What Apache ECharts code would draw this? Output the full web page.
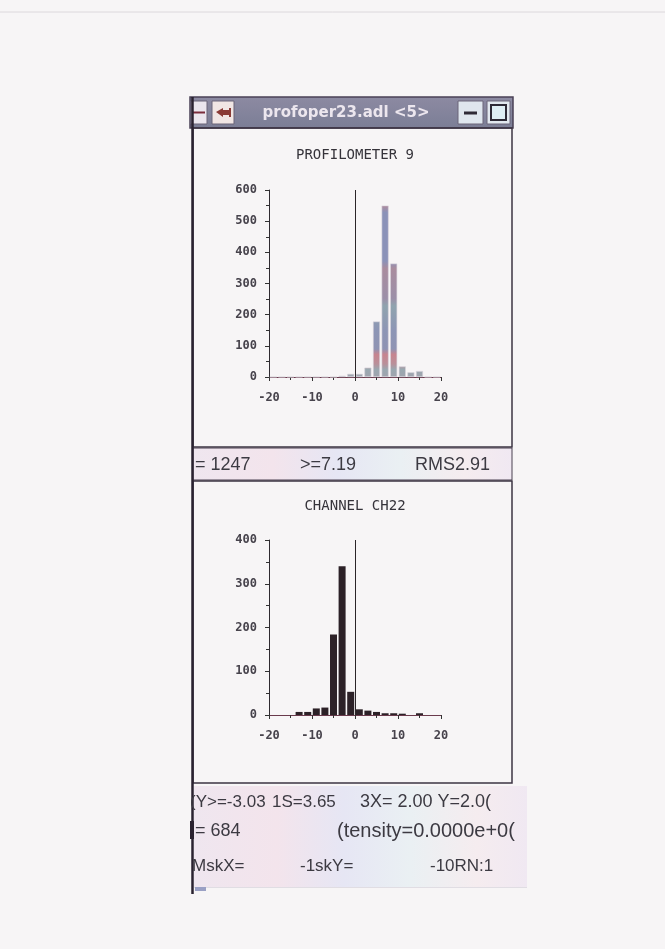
<!DOCTYPE html>
<html>
<head>
<meta charset="utf-8">
<title>profoper23.adl</title>
<script src="https://cdn.jsdelivr.net/npm/echarts@6/dist/echarts.min.js"></script>
<style>
  html, body { margin: 0; padding: 0; background: #f7f5f6; }
  #main { width: 665px; height: 949px; }
</style>
</head>
<body>
<div id="main"></div>
<script>
// histogram bins (width 2, centred on odd values)
var binCenters = [-19, -17, -15, -13, -11, -9, -7, -5, -3, -1, 1, 3, 5, 7, 9, 11, 13, 15, 17, 19];
// PROFILOMETER 9
var profCounts = [0, 0, 0, 0, 0, 0, 0, 0, 4, 10, 10, 30, 178, 550, 364, 34, 15, 19, 0, 0];
// CHANNEL CH22
var ch22Counts = [0, 0, 0, 7, 7, 15, 17, 184, 340, 53, 13, 10, 7, 4, 4, 3, 0, 4, 0, 0];

var windowTitle = 'profoper23.adl <5>';
var profTitle = 'PROFILOMETER 9';
var ch22Title = 'CHANNEL CH22';
var profStats = ['= 1247', '>=7.19', 'RMS2.91'];
var ch22Line1 = ['(Y>=-3.03', '1S=3.65', '3X= 2.00 Y=2.0('];
var ch22Line2 = ['= 684', '(tensity=0.0000e+0('];
var ch22Line3 = ['MskX=', '-1skY=', '-10RN:1'];

var monoFont = "'DejaVu Sans Mono', 'Liberation Mono', monospace";
var infoFont = "'Liberation Sans', sans-serif";

function pairs(xs, ys) {
  var out = [];
  for (var i = 0; i < xs.length; i++) out.push([xs[i], ys[i]]);
  return out;
}

function xAxisFor(gi) {
  return {
    gridIndex: gi, type: 'value', min: -20, max: 20, interval: 10,
    splitLine: { show: false },
    axisLine: { show: true, onZero: false, lineStyle: { color: '#6a3a4c', width: 1.2 } },
    axisTick: { show: true, length: 4, lineStyle: { color: '#333' } },
    minorTick: { show: true, splitNumber: 2, length: 3, lineStyle: { color: '#333' } },
    axisLabel: { margin: 15, fontFamily: monoFont, fontSize: 12, color: '#47434c', fontWeight: 'bold' }
  };
}
function yAxisFor(gi, max) {
  return {
    gridIndex: gi, type: 'value', min: 0, max: max, interval: 100,
    splitLine: { show: false },
    axisLine: { show: true, onZero: false, lineStyle: { color: '#2e2a30', width: 1 } },
    axisTick: { show: true, length: 4, lineStyle: { color: '#333' } },
    minorTick: { show: true, splitNumber: 2, length: 3, lineStyle: { color: '#333' } },
    axisLabel: { margin: 12, fontFamily: monoFont, fontSize: 12, color: '#47434c', fontWeight: 'bold' }
  };
}

// scanner streaks on the grey bars
var profColor = new echarts.graphic.LinearGradient(0, 190, 0, 377, [
  { offset: 0.00, color: '#b38a9a' },
  { offset: 0.08, color: '#b38a9a' },
  { offset: 0.12, color: '#8b92b8' },
  { offset: 0.38, color: '#8b92b8' },
  { offset: 0.42, color: '#a98c9e' },
  { offset: 0.58, color: '#9c8fa8' },
  { offset: 0.62, color: '#8fa3ae' },
  { offset: 0.75, color: '#8d95b5' },
  { offset: 0.85, color: '#8f93b3' },
  { offset: 0.88, color: '#c7848f' },
  { offset: 0.93, color: '#b9909a' },
  { offset: 0.96, color: '#9aa8b0' },
  { offset: 1.00, color: '#a0a4ae' }
], true);

var pastel = new echarts.graphic.LinearGradient(0, 0, 1, 0, [
  { offset: 0, color: '#efe6ef' },
  { offset: 0.25, color: '#f3e4ec' },
  { offset: 0.45, color: '#e6e6f4' },
  { offset: 0.65, color: '#eaf0f3' },
  { offset: 0.85, color: '#f5ecef' },
  { offset: 1, color: '#f0e8f2' }
]);

function txt(s, x, y, size, opts) {
  opts = opts || {};
  return {
    type: 'text', x: x, y: y, z: 5, silent: true,
    style: {
      text: s, fill: opts.fill || '#3c3a42',
      fontSize: size, fontFamily: opts.font || infoFont, fontWeight: opts.weight || 'normal',
      align: opts.align || 'left', verticalAlign: 'middle'
    }
  };
}

var chart = echarts.init(document.getElementById('main'));
chart.setOption({
  backgroundColor: '#f7f5f6',
  animation: false,
  grid: [
    { left: 269, right: 224, top: 190, bottom: 572 },
    { left: 269, right: 224, top: 540, bottom: 234 }
  ],
  xAxis: [xAxisFor(0), xAxisFor(1)],
  yAxis: [yAxisFor(0, 600), yAxisFor(1, 400)],
  series: [{
    type: 'bar', xAxisIndex: 0, yAxisIndex: 0, barWidth: 7,
    data: pairs(binCenters, profCounts),
    itemStyle: { color: profColor, borderColor: '#d8d4dc', borderWidth: 0.6 },
    markLine: {
      silent: true, symbol: 'none', label: { show: false },
      lineStyle: { color: '#2b2528', width: 1, type: 'solid' },
      data: [{ xAxis: 0 }]
    }
  }, {
    type: 'bar', xAxisIndex: 1, yAxisIndex: 1, barWidth: 7,
    data: pairs(binCenters, ch22Counts),
    itemStyle: { color: '#2c2127' },
    markLine: {
      silent: true, symbol: 'none', label: { show: false },
      lineStyle: { color: '#2b2528', width: 1, type: 'solid' },
      data: [{ xAxis: 0 }]
    }
  }],
  graphic: [
    // faint top paper edge
    { type: 'line', silent: true, shape: { x1: 0, y1: 12, x2: 665, y2: 12 }, style: { stroke: '#dcd8dc', lineWidth: 1 } },
    // title bar
    { type: 'rect', silent: true, shape: { x: 190, y: 97, width: 323, height: 31 },
      style: { fill: new echarts.graphic.LinearGradient(0, 0, 0, 1, [
        { offset: 0, color: '#8d8aa2' }, { offset: 1, color: '#7b7e96' }]), stroke: '#4a4055', lineWidth: 1.5 } },
    { type: 'rect', silent: true, shape: { x: 191, y: 101, width: 16, height: 23 }, style: { fill: '#ebe6ee', stroke: '#6b6478', lineWidth: 1 } },
    { type: 'line', silent: true, shape: { x1: 193, y1: 112.5, x2: 205, y2: 112.5 }, style: { stroke: '#7a2d3c', lineWidth: 2 } },
    { type: 'rect', silent: true, shape: { x: 212, y: 101, width: 22, height: 23 }, style: { fill: '#f1e6e4', stroke: '#6b6478', lineWidth: 1 } },
    { type: 'polygon', silent: true, shape: { points: [[216, 112], [223, 108], [223, 110], [229, 110], [229, 108], [231, 108], [231, 117], [229, 117], [229, 115], [223, 115], [223, 117]] },
      style: { fill: '#8a3a35' } },
    txt(windowTitle, 346, 113, 15, { fill: '#ece6ee', weight: 'bold', align: 'center', font: "'DejaVu Sans', 'Liberation Sans', sans-serif" }),
    { type: 'rect', silent: true, shape: { x: 458, y: 101, width: 25, height: 23 }, style: { fill: '#dfe6ee', stroke: '#6b6478', lineWidth: 1 } },
    { type: 'line', silent: true, shape: { x1: 464, y1: 113, x2: 477, y2: 113 }, style: { stroke: '#2e2a36', lineWidth: 3 } },
    { type: 'rect', silent: true, shape: { x: 487, y: 101, width: 23, height: 23 }, style: { fill: '#e2e8ef', stroke: '#6b6478', lineWidth: 1 } },
    { type: 'rect', silent: true, shape: { x: 491, y: 105, width: 15, height: 15 }, style: { fill: '#dfeef4', stroke: '#2e2a36', lineWidth: 2 } },
    // panels
    { type: 'rect', silent: true, shape: { x: 193, y: 128, width: 319, height: 319 }, style: { fill: 'none', stroke: '#3d3443', lineWidth: 1.5 } },
    { type: 'rect', silent: true, shape: { x: 193, y: 448, width: 319, height: 32 }, style: { fill: pastel, stroke: '#4a4050', lineWidth: 1 } },
    { type: 'rect', silent: true, shape: { x: 193, y: 481, width: 319, height: 302 }, style: { fill: 'none', stroke: '#3d3443', lineWidth: 1.5 } },
    { type: 'rect', silent: true, shape: { x: 194, y: 786, width: 333, height: 101 }, style: { fill: pastel } },
    { type: 'line', silent: true, shape: { x1: 194, y1: 887.5, x2: 527, y2: 887.5 }, style: { stroke: '#e0dde3', lineWidth: 1 } },
    { type: 'rect', silent: true, shape: { x: 195, y: 887, width: 11, height: 4 }, style: { fill: '#9aa0c4' } },
    { type: 'line', silent: true, shape: { x1: 192.5, y1: 97, x2: 192.5, y2: 894 }, style: { stroke: '#2a2230', lineWidth: 2.5 } },
    // chart titles
    txt(profTitle, 355, 155, 14, { font: monoFont, fill: '#35333a', align: 'center' }),
    txt(ch22Title, 355, 506, 14, { font: monoFont, fill: '#35333a', align: 'center' }),
    // stats under PROFILOMETER 9
    txt(profStats[0], 195, 465, 18),
    txt(profStats[1], 300, 465, 18),
    txt(profStats[2], 415, 465, 18),
    // stats under CHANNEL CH22
    txt(ch22Line1[0], 190, 802, 17),
    txt(ch22Line1[1], 272, 802, 17),
    txt(ch22Line1[2], 360, 802, 18),
    { type: 'rect', silent: true, shape: { x: 190, y: 821, width: 4, height: 18 }, style: { fill: '#2a2230' } },
    txt(ch22Line2[0], 195, 831, 18),
    txt(ch22Line2[1], 337, 831, 20),
    txt(ch22Line3[0], 192, 866, 17),
    txt(ch22Line3[1], 300, 866, 17),
    txt(ch22Line3[2], 430, 866, 17)
  ]
});
</script>
</body>
</html>
